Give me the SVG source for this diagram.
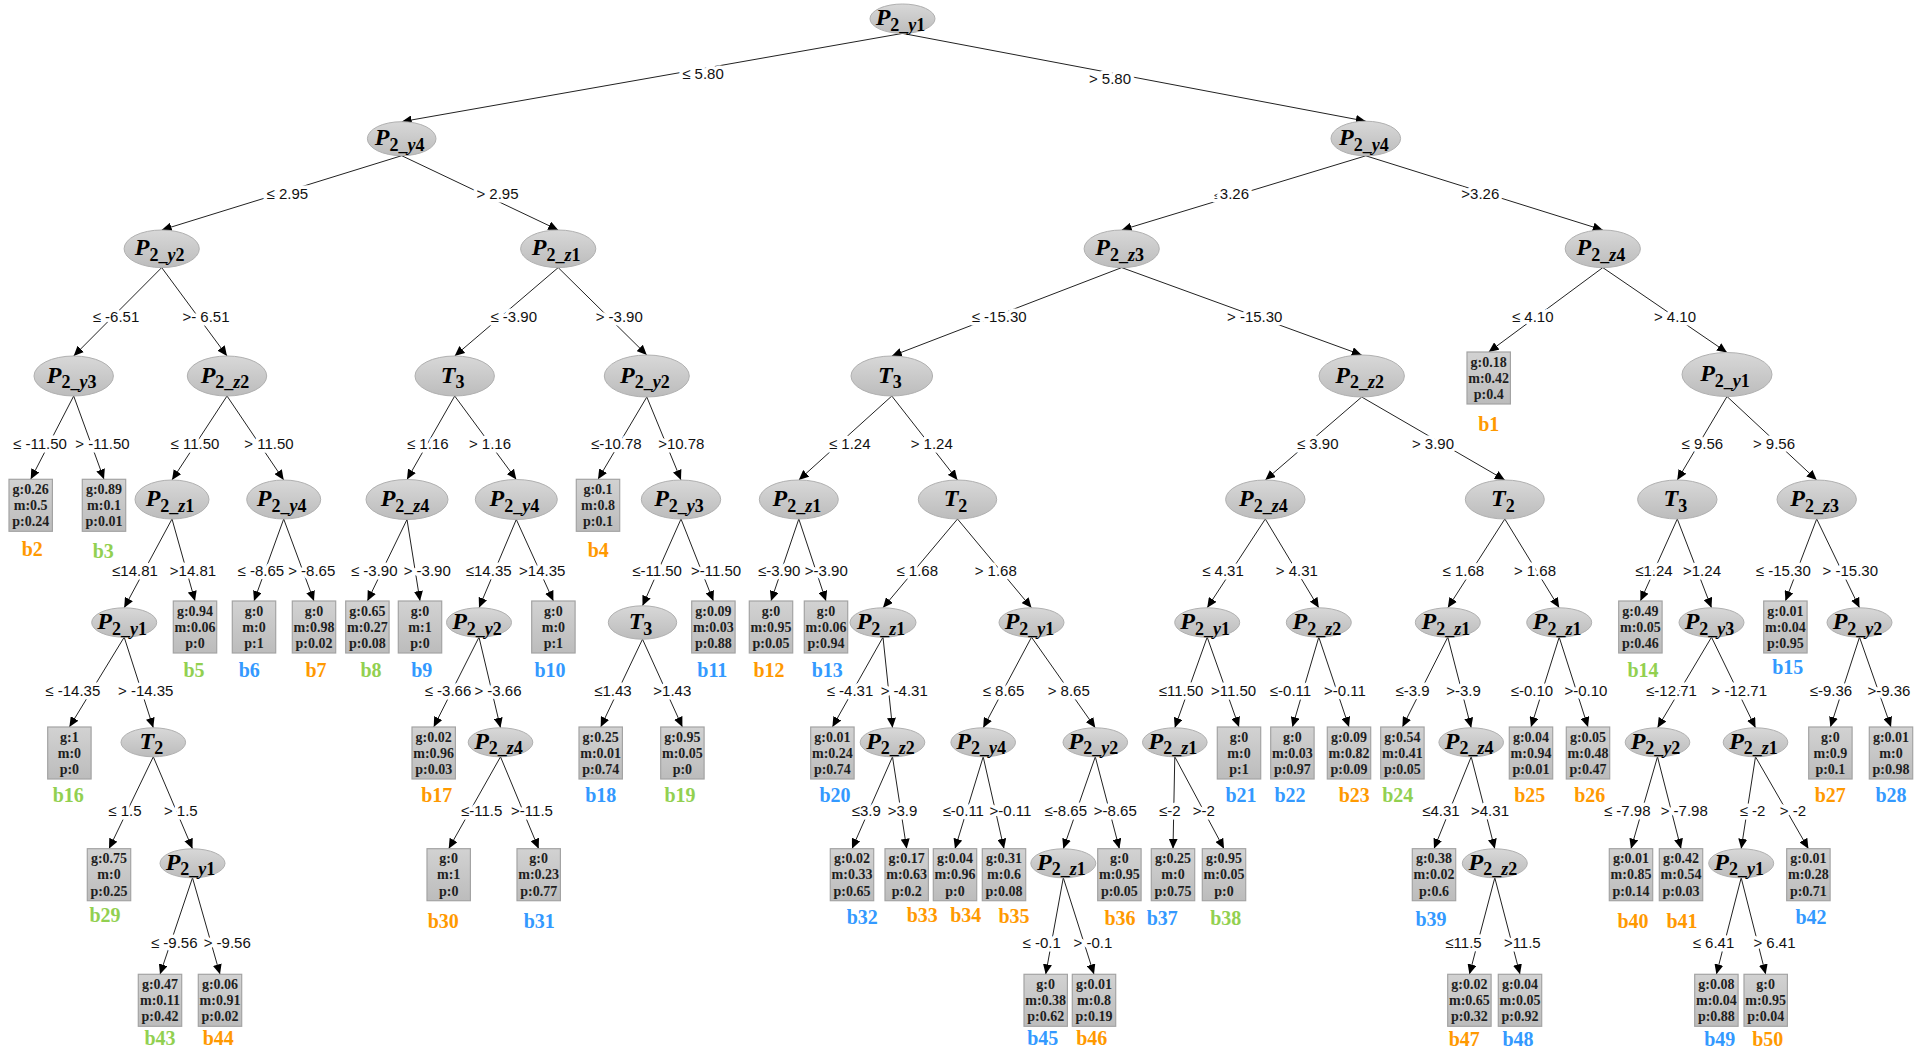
<svg xmlns="http://www.w3.org/2000/svg" width="1917" height="1053" viewBox="0 0 1917 1053">
<style>
.e{fill:url(#eg);stroke:#b0b0b0;stroke-width:1}
.bx{fill:url(#bg);stroke:#a3a3a3;stroke-width:1.2}
.bt{font-family:"Liberation Serif",serif;font-weight:bold;font-size:14px;text-anchor:middle;fill:#1e1e1e}
.nt{font-family:"Liberation Serif",serif;font-weight:bold;font-size:24px;text-anchor:middle;fill:#000}
.i{font-style:italic}
.s{font-size:18px}
.c{stroke:#222;stroke-width:1;fill:none;marker-end:url(#ah)}
.el{font-family:"Liberation Sans",sans-serif;font-size:15px;text-anchor:middle;fill:#111;stroke:#fff;stroke-width:7;paint-order:stroke;stroke-linejoin:round}
.lb{font-family:"Liberation Serif",serif;font-weight:bold;font-size:20px;text-anchor:middle}
.o{fill:#ff9900}.g{fill:#92d050}.b{fill:#3399ff}
</style>
<defs>
<linearGradient id="eg" x1="0" y1="0" x2="0" y2="1"><stop offset="0" stop-color="#d8d8d8"/><stop offset="1" stop-color="#bcbcbc"/></linearGradient>
<linearGradient id="bg" x1="0" y1="0" x2="0" y2="1"><stop offset="0" stop-color="#d2d2d2"/><stop offset="1" stop-color="#bcbcbc"/></linearGradient>
<marker id="ah" markerUnits="userSpaceOnUse" markerWidth="10" markerHeight="9" refX="10" refY="4.5" orient="auto"><path d="M0,0 L10,4.5 L0,9 z" fill="#000"/></marker>
</defs>
<rect width="1917" height="1053" fill="#fff"/>
<g id="connectors">
<line class="c" x1="902.5" y1="33.4" x2="401.7" y2="121.7"/>
<line class="c" x1="902.5" y1="33.4" x2="1365.8" y2="121.2"/>
<line class="c" x1="401.7" y1="155.7" x2="161.7" y2="230"/>
<line class="c" x1="401.7" y1="155.7" x2="558.2" y2="230"/>
<line class="c" x1="1365.8" y1="155.8" x2="1121.7" y2="230"/>
<line class="c" x1="1365.8" y1="155.8" x2="1602.8" y2="230"/>
<line class="c" x1="161.7" y1="267.6" x2="73.7" y2="356"/>
<line class="c" x1="161.7" y1="267.6" x2="227" y2="356"/>
<line class="c" x1="558.2" y1="267.6" x2="454.7" y2="356"/>
<line class="c" x1="558.2" y1="267.6" x2="646.8" y2="355"/>
<line class="c" x1="1121.7" y1="267.6" x2="891.8" y2="356"/>
<line class="c" x1="1121.7" y1="267.6" x2="1361.7" y2="355"/>
<line class="c" x1="1602.8" y1="267.6" x2="1488.7" y2="352"/>
<line class="c" x1="1602.8" y1="267.6" x2="1727" y2="352.5"/>
<line class="c" x1="73.7" y1="396" x2="30.7" y2="479.3"/>
<line class="c" x1="73.7" y1="396" x2="104" y2="479.3"/>
<line class="c" x1="227" y1="396" x2="172" y2="480"/>
<line class="c" x1="227" y1="396" x2="283.7" y2="480"/>
<line class="c" x1="454.7" y1="396" x2="407" y2="479.5"/>
<line class="c" x1="454.7" y1="396" x2="516.3" y2="479.5"/>
<line class="c" x1="646.8" y1="397" x2="598" y2="479.3"/>
<line class="c" x1="646.8" y1="397" x2="681" y2="480"/>
<line class="c" x1="891.8" y1="396" x2="798.8" y2="480"/>
<line class="c" x1="891.8" y1="396" x2="957.5" y2="480"/>
<line class="c" x1="1361.7" y1="397" x2="1265.3" y2="480"/>
<line class="c" x1="1361.7" y1="397" x2="1504.8" y2="480"/>
<line class="c" x1="1727" y1="396.5" x2="1677.3" y2="480"/>
<line class="c" x1="1727" y1="396.5" x2="1816.7" y2="480"/>
<line class="c" x1="172" y1="519" x2="124.2" y2="607.8"/>
<line class="c" x1="172" y1="519" x2="195" y2="601"/>
<line class="c" x1="283.7" y1="519" x2="254" y2="601"/>
<line class="c" x1="283.7" y1="519" x2="314" y2="601"/>
<line class="c" x1="407" y1="519.5" x2="367.4" y2="601"/>
<line class="c" x1="407" y1="519.5" x2="420" y2="601"/>
<line class="c" x1="516.3" y1="519.5" x2="479" y2="607.8"/>
<line class="c" x1="516.3" y1="519.5" x2="553.4" y2="601"/>
<line class="c" x1="681" y1="519" x2="642.5" y2="605.8"/>
<line class="c" x1="681" y1="519" x2="713.4" y2="601"/>
<line class="c" x1="798.8" y1="519" x2="771" y2="601"/>
<line class="c" x1="798.8" y1="519" x2="826" y2="601"/>
<line class="c" x1="957.5" y1="519" x2="883" y2="607.8"/>
<line class="c" x1="957.5" y1="519" x2="1031.5" y2="607.8"/>
<line class="c" x1="1265.3" y1="519" x2="1207.2" y2="607.8"/>
<line class="c" x1="1265.3" y1="519" x2="1318.8" y2="607.8"/>
<line class="c" x1="1504.8" y1="519" x2="1447.8" y2="607.8"/>
<line class="c" x1="1504.8" y1="519" x2="1559.2" y2="607.8"/>
<line class="c" x1="1677.3" y1="519" x2="1640.4" y2="601"/>
<line class="c" x1="1677.3" y1="519" x2="1711.5" y2="607.8"/>
<line class="c" x1="1816.7" y1="519" x2="1785.4" y2="601"/>
<line class="c" x1="1816.7" y1="519" x2="1859.5" y2="607.8"/>
<line class="c" x1="124.2" y1="637.2" x2="69.4" y2="727"/>
<line class="c" x1="124.2" y1="637.2" x2="153.3" y2="727.8"/>
<line class="c" x1="479" y1="637.2" x2="433.7" y2="727"/>
<line class="c" x1="479" y1="637.2" x2="500.5" y2="727.8"/>
<line class="c" x1="642.5" y1="639.2" x2="600.7" y2="727"/>
<line class="c" x1="642.5" y1="639.2" x2="682.4" y2="727"/>
<line class="c" x1="883" y1="637.2" x2="832.4" y2="727"/>
<line class="c" x1="883" y1="637.2" x2="892.5" y2="727.8"/>
<line class="c" x1="1031.5" y1="637.2" x2="983.2" y2="727.8"/>
<line class="c" x1="1031.5" y1="637.2" x2="1095.3" y2="727.8"/>
<line class="c" x1="1207.2" y1="637.2" x2="1174.8" y2="727.8"/>
<line class="c" x1="1207.2" y1="637.2" x2="1239" y2="727"/>
<line class="c" x1="1318.8" y1="637.2" x2="1292.4" y2="727"/>
<line class="c" x1="1318.8" y1="637.2" x2="1349" y2="727"/>
<line class="c" x1="1447.8" y1="637.2" x2="1402.4" y2="727"/>
<line class="c" x1="1447.8" y1="637.2" x2="1471.2" y2="727.8"/>
<line class="c" x1="1559.2" y1="637.2" x2="1531" y2="727"/>
<line class="c" x1="1559.2" y1="637.2" x2="1588" y2="727"/>
<line class="c" x1="1711.5" y1="637.2" x2="1657.5" y2="727.8"/>
<line class="c" x1="1711.5" y1="637.2" x2="1755.5" y2="727.8"/>
<line class="c" x1="1859.5" y1="637.2" x2="1830.4" y2="727"/>
<line class="c" x1="1859.5" y1="637.2" x2="1891" y2="727"/>
<line class="c" x1="153.3" y1="756.8" x2="109" y2="848.7"/>
<line class="c" x1="153.3" y1="756.8" x2="192.5" y2="848.8"/>
<line class="c" x1="500.5" y1="756.8" x2="448.7" y2="848.7"/>
<line class="c" x1="500.5" y1="756.8" x2="538.7" y2="848.7"/>
<line class="c" x1="892.5" y1="756.8" x2="852" y2="848.7"/>
<line class="c" x1="892.5" y1="756.8" x2="906.7" y2="848.7"/>
<line class="c" x1="983.2" y1="756.8" x2="955" y2="848.7"/>
<line class="c" x1="983.2" y1="756.8" x2="1004" y2="848.7"/>
<line class="c" x1="1095.3" y1="756.8" x2="1063.3" y2="848.8"/>
<line class="c" x1="1095.3" y1="756.8" x2="1119.4" y2="848.7"/>
<line class="c" x1="1174.8" y1="756.8" x2="1173" y2="848.7"/>
<line class="c" x1="1174.8" y1="756.8" x2="1224" y2="848.7"/>
<line class="c" x1="1471.2" y1="756.8" x2="1434" y2="848.7"/>
<line class="c" x1="1471.2" y1="756.8" x2="1494.8" y2="848.8"/>
<line class="c" x1="1657.5" y1="756.8" x2="1631" y2="848.7"/>
<line class="c" x1="1657.5" y1="756.8" x2="1681" y2="848.7"/>
<line class="c" x1="1755.5" y1="756.8" x2="1741.2" y2="848.8"/>
<line class="c" x1="1755.5" y1="756.8" x2="1808.4" y2="848.7"/>
<line class="c" x1="192.5" y1="877.8" x2="160" y2="974.3"/>
<line class="c" x1="192.5" y1="877.8" x2="220" y2="974.3"/>
<line class="c" x1="1063.3" y1="877.8" x2="1045.7" y2="974.3"/>
<line class="c" x1="1063.3" y1="877.8" x2="1094" y2="974.3"/>
<line class="c" x1="1494.8" y1="877.8" x2="1469.4" y2="974.3"/>
<line class="c" x1="1494.8" y1="877.8" x2="1520" y2="974.3"/>
<line class="c" x1="1741.2" y1="877.8" x2="1716.4" y2="974.3"/>
<line class="c" x1="1741.2" y1="877.8" x2="1765.7" y2="974.3"/>
</g>
<g id="connector-labels">
<text class="el" x="703" y="79">≤ 5.80</text>
<text class="el" x="1110" y="84">&gt; 5.80</text>
<text class="el" x="287.3" y="199">≤ 2.95</text>
<text class="el" x="497.5" y="199">&gt; 2.95</text>
<text class="el" x="1231.7" y="199"><tspan font-size="10">≤</tspan>3.26</text>
<text class="el" x="1480.3" y="199">&gt;3.26</text>
<text class="el" x="116" y="322.3">≤ -6.51</text>
<text class="el" x="206" y="322.3">&gt;- 6.51</text>
<text class="el" x="513.7" y="322.3">≤ -3.90</text>
<text class="el" x="619.2" y="322.3">&gt; -3.90</text>
<text class="el" x="999.2" y="322.3">≤ -15.30</text>
<text class="el" x="1254.7" y="322.3">&gt; -15.30</text>
<text class="el" x="1532.7" y="322.3">≤ 4.10</text>
<text class="el" x="1675" y="322.3">&gt; 4.10</text>
<text class="el" x="40" y="449.3">≤ -11.50</text>
<text class="el" x="102.5" y="449.3">&gt; -11.50</text>
<text class="el" x="195" y="449.3">≤ 11.50</text>
<text class="el" x="269" y="449.3">&gt; 11.50</text>
<text class="el" x="427.7" y="449.3">≤ 1.16</text>
<text class="el" x="490" y="449.3">&gt; 1.16</text>
<text class="el" x="616.3" y="449.3">≤-10.78</text>
<text class="el" x="681.3" y="449.3">&gt;10.78</text>
<text class="el" x="849.7" y="449.3">≤ 1.24</text>
<text class="el" x="931.7" y="449.3">&gt; 1.24</text>
<text class="el" x="1317.7" y="449.3">≤ 3.90</text>
<text class="el" x="1433" y="449.3">&gt; 3.90</text>
<text class="el" x="1702.3" y="449.3">≤ 9.56</text>
<text class="el" x="1774" y="449.3">&gt; 9.56</text>
<text class="el" x="135" y="576.3">≤14.81</text>
<text class="el" x="193" y="576.3">&gt;14.81</text>
<text class="el" x="260.8" y="576.3">≤ -8.65</text>
<text class="el" x="311.7" y="576.3">&gt; -8.65</text>
<text class="el" x="374.2" y="576.3">≤ -3.90</text>
<text class="el" x="427.2" y="576.3">&gt; -3.90</text>
<text class="el" x="488.7" y="576.3">≤14.35</text>
<text class="el" x="542.2" y="576.3">&gt;14.35</text>
<text class="el" x="657" y="576.3">≤-11.50</text>
<text class="el" x="716" y="576.3">&gt;-11.50</text>
<text class="el" x="779.2" y="576.3">≤-3.90</text>
<text class="el" x="826.3" y="576.3">&gt;-3.90</text>
<text class="el" x="917.2" y="576.3">≤ 1.68</text>
<text class="el" x="995.7" y="576.3">&gt; 1.68</text>
<text class="el" x="1223" y="576.3">≤ 4.31</text>
<text class="el" x="1296.8" y="576.3">&gt; 4.31</text>
<text class="el" x="1463.3" y="576.3">≤ 1.68</text>
<text class="el" x="1535" y="576.3">&gt; 1.68</text>
<text class="el" x="1654" y="576.3">≤1.24</text>
<text class="el" x="1702" y="576.3">&gt;1.24</text>
<text class="el" x="1783.3" y="576.3">≤ -15.30</text>
<text class="el" x="1850.3" y="576.3">&gt; -15.30</text>
<text class="el" x="72.8" y="696.3">≤ -14.35</text>
<text class="el" x="145.7" y="696.3">&gt; -14.35</text>
<text class="el" x="448" y="696.3">≤ -3.66</text>
<text class="el" x="498" y="696.3">&gt; -3.66</text>
<text class="el" x="613" y="696.3">≤1.43</text>
<text class="el" x="672.3" y="696.3">&gt;1.43</text>
<text class="el" x="850" y="696.3">≤ -4.31</text>
<text class="el" x="904.2" y="696.3">&gt; -4.31</text>
<text class="el" x="1003.5" y="696.3">≤ 8.65</text>
<text class="el" x="1068.7" y="696.3">&gt; 8.65</text>
<text class="el" x="1181" y="696.3">≤11.50</text>
<text class="el" x="1233.5" y="696.3">&gt;11.50</text>
<text class="el" x="1290.5" y="696.3">≤-0.11</text>
<text class="el" x="1345" y="696.3">&gt;-0.11</text>
<text class="el" x="1412.5" y="696.3">≤-3.9</text>
<text class="el" x="1463.5" y="696.3">&gt;-3.9</text>
<text class="el" x="1532" y="696.3">≤-0.10</text>
<text class="el" x="1586" y="696.3">&gt;-0.10</text>
<text class="el" x="1671.5" y="696.3">≤-12.71</text>
<text class="el" x="1739.3" y="696.3">&gt; -12.71</text>
<text class="el" x="1831" y="696.3">≤-9.36</text>
<text class="el" x="1889" y="696.3">&gt;-9.36</text>
<text class="el" x="125" y="816">≤ 1.5</text>
<text class="el" x="180.8" y="816">&gt; 1.5</text>
<text class="el" x="481.7" y="816">≤-11.5</text>
<text class="el" x="532" y="816">&gt;-11.5</text>
<text class="el" x="866.3" y="816">≤3.9</text>
<text class="el" x="902.5" y="816">&gt;3.9</text>
<text class="el" x="963.3" y="816">≤-0.11</text>
<text class="el" x="1010.5" y="816">&gt;-0.11</text>
<text class="el" x="1065.8" y="816">≤-8.65</text>
<text class="el" x="1115.3" y="816">&gt;-8.65</text>
<text class="el" x="1169.8" y="816">≤-2</text>
<text class="el" x="1203.7" y="816">&gt;-2</text>
<text class="el" x="1441" y="816">≤4.31</text>
<text class="el" x="1490" y="816">&gt;4.31</text>
<text class="el" x="1627.2" y="816">≤ -7.98</text>
<text class="el" x="1684.2" y="816">&gt; -7.98</text>
<text class="el" x="1752.5" y="816">≤ -2</text>
<text class="el" x="1793" y="816">&gt; -2</text>
<text class="el" x="174.2" y="948">≤ -9.56</text>
<text class="el" x="227.2" y="948">&gt; -9.56</text>
<text class="el" x="1041.7" y="948">≤ -0.1</text>
<text class="el" x="1093" y="948">&gt; -0.1</text>
<text class="el" x="1463.5" y="948">≤11.5</text>
<text class="el" x="1522.3" y="948">&gt;11.5</text>
<text class="el" x="1713.5" y="948">≤ 6.41</text>
<text class="el" x="1774.5" y="948">&gt; 6.41</text>
</g>
<g id="nodes">
<g id="n0"><ellipse class="e" cx="902.5" cy="18.7" rx="32.5" ry="14.7"/><text class="nt" x="900.5" y="25.2"><tspan class="i">P</tspan><tspan class="s" dy="5.5">2_<tspan class="i">y</tspan>1</tspan></text></g>
<g id="nA"><ellipse class="e" cx="401.7" cy="138.7" rx="34.3" ry="17"/><text class="nt" x="399.7" y="145.2"><tspan class="i">P</tspan><tspan class="s" dy="5.5">2_<tspan class="i">y</tspan>4</tspan></text></g>
<g id="nB"><ellipse class="e" cx="1365.8" cy="138.5" rx="34.8" ry="17.3"/><text class="nt" x="1363.8" y="145"><tspan class="i">P</tspan><tspan class="s" dy="5.5">2_<tspan class="i">y</tspan>4</tspan></text></g>
<g id="nAA"><ellipse class="e" cx="161.7" cy="248.8" rx="37.6" ry="18.8"/><text class="nt" x="159.7" y="255.3"><tspan class="i">P</tspan><tspan class="s" dy="5.5">2_<tspan class="i">y</tspan>2</tspan></text></g>
<g id="nAB"><ellipse class="e" cx="558.2" cy="248.8" rx="37.6" ry="18.8"/><text class="nt" x="556.2" y="255.3"><tspan class="i">P</tspan><tspan class="s" dy="5.5">2_<tspan class="i">z</tspan>1</tspan></text></g>
<g id="nBA"><ellipse class="e" cx="1121.7" cy="248.8" rx="37.6" ry="18.8"/><text class="nt" x="1119.7" y="255.3"><tspan class="i">P</tspan><tspan class="s" dy="5.5">2_<tspan class="i">z</tspan>3</tspan></text></g>
<g id="nBB"><ellipse class="e" cx="1602.8" cy="248.8" rx="37.6" ry="18.8"/><text class="nt" x="1600.8" y="255.3"><tspan class="i">P</tspan><tspan class="s" dy="5.5">2_<tspan class="i">z</tspan>4</tspan></text></g>
<g id="nAAA"><ellipse class="e" cx="73.7" cy="376" rx="39.7" ry="20"/><text class="nt" x="71.7" y="382.5"><tspan class="i">P</tspan><tspan class="s" dy="5.5">2_<tspan class="i">y</tspan>3</tspan></text></g>
<g id="nAAB"><ellipse class="e" cx="227" cy="376" rx="39.7" ry="20"/><text class="nt" x="225" y="382.5"><tspan class="i">P</tspan><tspan class="s" dy="5.5">2_<tspan class="i">z</tspan>2</tspan></text></g>
<g id="nABA"><ellipse class="e" cx="454.7" cy="376" rx="39.7" ry="20"/><text class="nt" x="452.7" y="382.5"><tspan class="i">T</tspan><tspan class="s" dy="5.5">3</tspan></text></g>
<g id="nABB"><ellipse class="e" cx="646.8" cy="376" rx="42.5" ry="21"/><text class="nt" x="644.8" y="382.5"><tspan class="i">P</tspan><tspan class="s" dy="5.5">2_<tspan class="i">y</tspan>2</tspan></text></g>
<g id="nBAA"><ellipse class="e" cx="891.8" cy="376" rx="40.8" ry="20"/><text class="nt" x="889.8" y="382.5"><tspan class="i">T</tspan><tspan class="s" dy="5.5">3</tspan></text></g>
<g id="nBAB"><ellipse class="e" cx="1361.7" cy="376" rx="42.7" ry="21"/><text class="nt" x="1359.7" y="382.5"><tspan class="i">P</tspan><tspan class="s" dy="5.5">2_<tspan class="i">z</tspan>2</tspan></text></g>
<g id="nBBB"><ellipse class="e" cx="1727" cy="374.5" rx="45" ry="22"/><text class="nt" x="1725" y="381"><tspan class="i">P</tspan><tspan class="s" dy="5.5">2_<tspan class="i">y</tspan>1</tspan></text></g>
<g id="nAABA"><ellipse class="e" cx="172" cy="499.5" rx="37" ry="19.5"/><text class="nt" x="170" y="506"><tspan class="i">P</tspan><tspan class="s" dy="5.5">2_<tspan class="i">z</tspan>1</tspan></text></g>
<g id="nAABB"><ellipse class="e" cx="283.7" cy="499.5" rx="37" ry="19.5"/><text class="nt" x="281.7" y="506"><tspan class="i">P</tspan><tspan class="s" dy="5.5">2_<tspan class="i">y</tspan>4</tspan></text></g>
<g id="nABAA"><ellipse class="e" cx="407" cy="499.5" rx="41" ry="20"/><text class="nt" x="405" y="506"><tspan class="i">P</tspan><tspan class="s" dy="5.5">2_<tspan class="i">z</tspan>4</tspan></text></g>
<g id="nABAB"><ellipse class="e" cx="516.3" cy="499.5" rx="41" ry="20"/><text class="nt" x="514.3" y="506"><tspan class="i">P</tspan><tspan class="s" dy="5.5">2_<tspan class="i">y</tspan>4</tspan></text></g>
<g id="nABBB"><ellipse class="e" cx="681" cy="499.5" rx="39.7" ry="19.5"/><text class="nt" x="679" y="506"><tspan class="i">P</tspan><tspan class="s" dy="5.5">2_<tspan class="i">y</tspan>3</tspan></text></g>
<g id="nBAAA"><ellipse class="e" cx="798.8" cy="499.5" rx="39.5" ry="19.5"/><text class="nt" x="796.8" y="506"><tspan class="i">P</tspan><tspan class="s" dy="5.5">2_<tspan class="i">z</tspan>1</tspan></text></g>
<g id="nBAAB"><ellipse class="e" cx="957.5" cy="499.5" rx="39.2" ry="19.5"/><text class="nt" x="955.5" y="506"><tspan class="i">T</tspan><tspan class="s" dy="5.5">2</tspan></text></g>
<g id="nBABA"><ellipse class="e" cx="1265.3" cy="499.5" rx="39.7" ry="19.5"/><text class="nt" x="1263.3" y="506"><tspan class="i">P</tspan><tspan class="s" dy="5.5">2_<tspan class="i">z</tspan>4</tspan></text></g>
<g id="nBABB"><ellipse class="e" cx="1504.8" cy="499.5" rx="39.5" ry="19.5"/><text class="nt" x="1502.8" y="506"><tspan class="i">T</tspan><tspan class="s" dy="5.5">2</tspan></text></g>
<g id="nBBBA"><ellipse class="e" cx="1677.3" cy="499.5" rx="39.7" ry="19.5"/><text class="nt" x="1675.3" y="506"><tspan class="i">T</tspan><tspan class="s" dy="5.5">3</tspan></text></g>
<g id="nBBBB"><ellipse class="e" cx="1816.7" cy="499.5" rx="39.7" ry="19.5"/><text class="nt" x="1814.7" y="506"><tspan class="i">P</tspan><tspan class="s" dy="5.5">2_<tspan class="i">z</tspan>3</tspan></text></g>
<g id="nAABAA"><ellipse class="e" cx="124.2" cy="622.5" rx="32.5" ry="14.7"/><text class="nt" x="122.2" y="629"><tspan class="i">P</tspan><tspan class="s" dy="5.5">2_<tspan class="i">y</tspan>1</tspan></text></g>
<g id="nABABA"><ellipse class="e" cx="479" cy="622.5" rx="32.5" ry="14.7"/><text class="nt" x="477" y="629"><tspan class="i">P</tspan><tspan class="s" dy="5.5">2_<tspan class="i">y</tspan>2</tspan></text></g>
<g id="nABBBA"><ellipse class="e" cx="642.5" cy="622.5" rx="34.2" ry="16.7"/><text class="nt" x="640.5" y="629"><tspan class="i">T</tspan><tspan class="s" dy="5.5">3</tspan></text></g>
<g id="nBAABA"><ellipse class="e" cx="883" cy="622.5" rx="33" ry="14.7"/><text class="nt" x="881" y="629"><tspan class="i">P</tspan><tspan class="s" dy="5.5">2_<tspan class="i">z</tspan>1</tspan></text></g>
<g id="nBAABB"><ellipse class="e" cx="1031.5" cy="622.5" rx="32.5" ry="14.7"/><text class="nt" x="1029.5" y="629"><tspan class="i">P</tspan><tspan class="s" dy="5.5">2_<tspan class="i">y</tspan>1</tspan></text></g>
<g id="nBABAA"><ellipse class="e" cx="1207.2" cy="622.5" rx="32.5" ry="14.7"/><text class="nt" x="1205.2" y="629"><tspan class="i">P</tspan><tspan class="s" dy="5.5">2_<tspan class="i">y</tspan>1</tspan></text></g>
<g id="nBABAB"><ellipse class="e" cx="1318.8" cy="622.5" rx="32.5" ry="14.7"/><text class="nt" x="1316.8" y="629"><tspan class="i">P</tspan><tspan class="s" dy="5.5">2_<tspan class="i">z</tspan>2</tspan></text></g>
<g id="nBABBA"><ellipse class="e" cx="1447.8" cy="622.5" rx="32.5" ry="14.7"/><text class="nt" x="1445.8" y="629"><tspan class="i">P</tspan><tspan class="s" dy="5.5">2_<tspan class="i">z</tspan>1</tspan></text></g>
<g id="nBABBB"><ellipse class="e" cx="1559.2" cy="622.5" rx="32.5" ry="14.7"/><text class="nt" x="1557.2" y="629"><tspan class="i">P</tspan><tspan class="s" dy="5.5">2_<tspan class="i">z</tspan>1</tspan></text></g>
<g id="nBBBAB"><ellipse class="e" cx="1711.5" cy="622.5" rx="32.5" ry="14.7"/><text class="nt" x="1709.5" y="629"><tspan class="i">P</tspan><tspan class="s" dy="5.5">2_<tspan class="i">y</tspan>3</tspan></text></g>
<g id="nBBBBB"><ellipse class="e" cx="1859.5" cy="622.5" rx="32.5" ry="14.7"/><text class="nt" x="1857.5" y="629"><tspan class="i">P</tspan><tspan class="s" dy="5.5">2_<tspan class="i">y</tspan>2</tspan></text></g>
<g id="nAABAAB"><ellipse class="e" cx="153.3" cy="742.3" rx="32.3" ry="14.5"/><text class="nt" x="151.3" y="748.8"><tspan class="i">T</tspan><tspan class="s" dy="5.5">2</tspan></text></g>
<g id="nABABAB"><ellipse class="e" cx="500.5" cy="742.3" rx="32.3" ry="14.5"/><text class="nt" x="498.5" y="748.8"><tspan class="i">P</tspan><tspan class="s" dy="5.5">2_<tspan class="i">z</tspan>4</tspan></text></g>
<g id="nBAABAB"><ellipse class="e" cx="892.5" cy="742.3" rx="32.3" ry="14.5"/><text class="nt" x="890.5" y="748.8"><tspan class="i">P</tspan><tspan class="s" dy="5.5">2_<tspan class="i">z</tspan>2</tspan></text></g>
<g id="nBAABBA"><ellipse class="e" cx="983.2" cy="742.3" rx="32.3" ry="14.5"/><text class="nt" x="981.2" y="748.8"><tspan class="i">P</tspan><tspan class="s" dy="5.5">2_<tspan class="i">y</tspan>4</tspan></text></g>
<g id="nBAABBB"><ellipse class="e" cx="1095.3" cy="742.3" rx="32.3" ry="14.5"/><text class="nt" x="1093.3" y="748.8"><tspan class="i">P</tspan><tspan class="s" dy="5.5">2_<tspan class="i">y</tspan>2</tspan></text></g>
<g id="nBABAAA"><ellipse class="e" cx="1174.8" cy="742.3" rx="32.3" ry="14.5"/><text class="nt" x="1172.8" y="748.8"><tspan class="i">P</tspan><tspan class="s" dy="5.5">2_<tspan class="i">z</tspan>1</tspan></text></g>
<g id="nBABBAB"><ellipse class="e" cx="1471.2" cy="742.3" rx="32.3" ry="14.5"/><text class="nt" x="1469.2" y="748.8"><tspan class="i">P</tspan><tspan class="s" dy="5.5">2_<tspan class="i">z</tspan>4</tspan></text></g>
<g id="nBBBABA"><ellipse class="e" cx="1657.5" cy="742.3" rx="32.3" ry="14.5"/><text class="nt" x="1655.5" y="748.8"><tspan class="i">P</tspan><tspan class="s" dy="5.5">2_<tspan class="i">y</tspan>2</tspan></text></g>
<g id="nBBBABB"><ellipse class="e" cx="1755.5" cy="742.3" rx="32.3" ry="14.5"/><text class="nt" x="1753.5" y="748.8"><tspan class="i">P</tspan><tspan class="s" dy="5.5">2_<tspan class="i">z</tspan>1</tspan></text></g>
<g id="nAABAABB"><ellipse class="e" cx="192.5" cy="863.3" rx="32.5" ry="14.5"/><text class="nt" x="190.5" y="869.8"><tspan class="i">P</tspan><tspan class="s" dy="5.5">2_<tspan class="i">y</tspan>1</tspan></text></g>
<g id="nBAABBBA"><ellipse class="e" cx="1063.3" cy="863.3" rx="32.5" ry="14.5"/><text class="nt" x="1061.3" y="869.8"><tspan class="i">P</tspan><tspan class="s" dy="5.5">2_<tspan class="i">z</tspan>1</tspan></text></g>
<g id="nBABBABB"><ellipse class="e" cx="1494.8" cy="863.3" rx="32.5" ry="14.5"/><text class="nt" x="1492.8" y="869.8"><tspan class="i">P</tspan><tspan class="s" dy="5.5">2_<tspan class="i">z</tspan>2</tspan></text></g>
<g id="nBBBABBA"><ellipse class="e" cx="1741.2" cy="863.3" rx="32.5" ry="14.5"/><text class="nt" x="1739.2" y="869.8"><tspan class="i">P</tspan><tspan class="s" dy="5.5">2_<tspan class="i">y</tspan>1</tspan></text></g>

<g id="b1"><rect class="bx" x="1467" y="352" width="43.4" height="52"/><text class="bt" x="1488.7" y="366.5">g:0.18<tspan x="1488.7" dy="16.2">m:0.42</tspan><tspan x="1488.7" dy="16.2">p:0.4</tspan></text><text class="lb o" x="1488.7" y="431">b1</text></g>
<g id="b2"><rect class="bx" x="9" y="479.3" width="43.4" height="52"/><text class="bt" x="30.7" y="493.8">g:0.26<tspan x="30.7" dy="16.2">m:0.5</tspan><tspan x="30.7" dy="16.2">p:0.24</tspan></text><text class="lb o" x="32.3" y="556">b2</text></g>
<g id="b3"><rect class="bx" x="82.3" y="479.3" width="43.4" height="52"/><text class="bt" x="104" y="493.8">g:0.89<tspan x="104" dy="16.2">m:0.1</tspan><tspan x="104" dy="16.2">p:0.01</tspan></text><text class="lb g" x="103.3" y="558">b3</text></g>
<g id="b4"><rect class="bx" x="576.3" y="479.3" width="43.4" height="52"/><text class="bt" x="598" y="493.8">g:0.1<tspan x="598" dy="16.2">m:0.8</tspan><tspan x="598" dy="16.2">p:0.1</tspan></text><text class="lb o" x="598.3" y="557">b4</text></g>
<g id="b5"><rect class="bx" x="173.3" y="601" width="43.4" height="52"/><text class="bt" x="195" y="615.5">g:0.94<tspan x="195" dy="16.2">m:0.06</tspan><tspan x="195" dy="16.2">p:0</tspan></text><text class="lb g" x="194" y="677">b5</text></g>
<g id="b6"><rect class="bx" x="232.3" y="601" width="43.4" height="52"/><text class="bt" x="254" y="615.5">g:0<tspan x="254" dy="16.2">m:0</tspan><tspan x="254" dy="16.2">p:1</tspan></text><text class="lb b" x="249.3" y="677">b6</text></g>
<g id="b7"><rect class="bx" x="292.3" y="601" width="43.4" height="52"/><text class="bt" x="314" y="615.5">g:0<tspan x="314" dy="16.2">m:0.98</tspan><tspan x="314" dy="16.2">p:0.02</tspan></text><text class="lb o" x="316" y="677">b7</text></g>
<g id="b8"><rect class="bx" x="345.7" y="601" width="43.4" height="52"/><text class="bt" x="367.4" y="615.5">g:0.65<tspan x="367.4" dy="16.2">m:0.27</tspan><tspan x="367.4" dy="16.2">p:0.08</tspan></text><text class="lb g" x="371" y="677">b8</text></g>
<g id="b9"><rect class="bx" x="398.3" y="601" width="43.4" height="52"/><text class="bt" x="420" y="615.5">g:0<tspan x="420" dy="16.2">m:1</tspan><tspan x="420" dy="16.2">p:0</tspan></text><text class="lb b" x="421.7" y="677">b9</text></g>
<g id="b10"><rect class="bx" x="531.7" y="601" width="43.4" height="52"/><text class="bt" x="553.4" y="615.5">g:0<tspan x="553.4" dy="16.2">m:0</tspan><tspan x="553.4" dy="16.2">p:1</tspan></text><text class="lb b" x="550" y="677">b10</text></g>
<g id="b11"><rect class="bx" x="691.7" y="601" width="43.4" height="52"/><text class="bt" x="713.4" y="615.5">g:0.09<tspan x="713.4" dy="16.2">m:0.03</tspan><tspan x="713.4" dy="16.2">p:0.88</tspan></text><text class="lb b" x="712.3" y="677">b11</text></g>
<g id="b12"><rect class="bx" x="749.3" y="601" width="43.4" height="52"/><text class="bt" x="771" y="615.5">g:0<tspan x="771" dy="16.2">m:0.95</tspan><tspan x="771" dy="16.2">p:0.05</tspan></text><text class="lb o" x="769" y="677">b12</text></g>
<g id="b13"><rect class="bx" x="804.3" y="601" width="43.4" height="52"/><text class="bt" x="826" y="615.5">g:0<tspan x="826" dy="16.2">m:0.06</tspan><tspan x="826" dy="16.2">p:0.94</tspan></text><text class="lb b" x="827.3" y="677">b13</text></g>
<g id="b14"><rect class="bx" x="1618.7" y="601" width="43.4" height="52"/><text class="bt" x="1640.4" y="615.5">g:0.49<tspan x="1640.4" dy="16.2">m:0.05</tspan><tspan x="1640.4" dy="16.2">p:0.46</tspan></text><text class="lb g" x="1643" y="677">b14</text></g>
<g id="b15"><rect class="bx" x="1763.7" y="601" width="43.4" height="52"/><text class="bt" x="1785.4" y="615.5">g:0.01<tspan x="1785.4" dy="16.2">m:0.04</tspan><tspan x="1785.4" dy="16.2">p:0.95</tspan></text><text class="lb b" x="1787.7" y="674">b15</text></g>
<g id="b16"><rect class="bx" x="47.7" y="727" width="43.4" height="52"/><text class="bt" x="69.4" y="741.5">g:1<tspan x="69.4" dy="16.2">m:0</tspan><tspan x="69.4" dy="16.2">p:0</tspan></text><text class="lb g" x="68.3" y="802">b16</text></g>
<g id="b17"><rect class="bx" x="412" y="727" width="43.4" height="52"/><text class="bt" x="433.7" y="741.5">g:0.02<tspan x="433.7" dy="16.2">m:0.96</tspan><tspan x="433.7" dy="16.2">p:0.03</tspan></text><text class="lb o" x="436.7" y="802">b17</text></g>
<g id="b18"><rect class="bx" x="579" y="727" width="43.4" height="52"/><text class="bt" x="600.7" y="741.5">g:0.25<tspan x="600.7" dy="16.2">m:0.01</tspan><tspan x="600.7" dy="16.2">p:0.74</tspan></text><text class="lb b" x="600.7" y="802">b18</text></g>
<g id="b19"><rect class="bx" x="660.7" y="727" width="43.4" height="52"/><text class="bt" x="682.4" y="741.5">g:0.95<tspan x="682.4" dy="16.2">m:0.05</tspan><tspan x="682.4" dy="16.2">p:0</tspan></text><text class="lb g" x="680" y="802">b19</text></g>
<g id="b20"><rect class="bx" x="810.7" y="727" width="43.4" height="52"/><text class="bt" x="832.4" y="741.5">g:0.01<tspan x="832.4" dy="16.2">m:0.24</tspan><tspan x="832.4" dy="16.2">p:0.74</tspan></text><text class="lb b" x="835" y="802">b20</text></g>
<g id="b21"><rect class="bx" x="1217.3" y="727" width="43.4" height="52"/><text class="bt" x="1239" y="741.5">g:0<tspan x="1239" dy="16.2">m:0</tspan><tspan x="1239" dy="16.2">p:1</tspan></text><text class="lb b" x="1241" y="802">b21</text></g>
<g id="b22"><rect class="bx" x="1270.7" y="727" width="43.4" height="52"/><text class="bt" x="1292.4" y="741.5">g:0<tspan x="1292.4" dy="16.2">m:0.03</tspan><tspan x="1292.4" dy="16.2">p:0.97</tspan></text><text class="lb b" x="1290" y="802">b22</text></g>
<g id="b23"><rect class="bx" x="1327.3" y="727" width="43.4" height="52"/><text class="bt" x="1349" y="741.5">g:0.09<tspan x="1349" dy="16.2">m:0.82</tspan><tspan x="1349" dy="16.2">p:0.09</tspan></text><text class="lb o" x="1354.3" y="802">b23</text></g>
<g id="b24"><rect class="bx" x="1380.7" y="727" width="43.4" height="52"/><text class="bt" x="1402.4" y="741.5">g:0.54<tspan x="1402.4" dy="16.2">m:0.41</tspan><tspan x="1402.4" dy="16.2">p:0.05</tspan></text><text class="lb g" x="1397.7" y="802">b24</text></g>
<g id="b25"><rect class="bx" x="1509.3" y="727" width="43.4" height="52"/><text class="bt" x="1531" y="741.5">g:0.04<tspan x="1531" dy="16.2">m:0.94</tspan><tspan x="1531" dy="16.2">p:0.01</tspan></text><text class="lb o" x="1529.7" y="802">b25</text></g>
<g id="b26"><rect class="bx" x="1566.3" y="727" width="43.4" height="52"/><text class="bt" x="1588" y="741.5">g:0.05<tspan x="1588" dy="16.2">m:0.48</tspan><tspan x="1588" dy="16.2">p:0.47</tspan></text><text class="lb o" x="1589.7" y="802">b26</text></g>
<g id="b27"><rect class="bx" x="1808.7" y="727" width="43.4" height="52"/><text class="bt" x="1830.4" y="741.5">g:0<tspan x="1830.4" dy="16.2">m:0.9</tspan><tspan x="1830.4" dy="16.2">p:0.1</tspan></text><text class="lb o" x="1830.3" y="802">b27</text></g>
<g id="b28"><rect class="bx" x="1869.3" y="727" width="43.4" height="52"/><text class="bt" x="1891" y="741.5">g:0.01<tspan x="1891" dy="16.2">m:0</tspan><tspan x="1891" dy="16.2">p:0.98</tspan></text><text class="lb b" x="1891" y="802">b28</text></g>
<g id="b29"><rect class="bx" x="87.3" y="848.7" width="43.4" height="52"/><text class="bt" x="109" y="863.2">g:0.75<tspan x="109" dy="16.2">m:0</tspan><tspan x="109" dy="16.2">p:0.25</tspan></text><text class="lb g" x="105" y="922">b29</text></g>
<g id="b30"><rect class="bx" x="427" y="848.7" width="43.4" height="52"/><text class="bt" x="448.7" y="863.2">g:0<tspan x="448.7" dy="16.2">m:1</tspan><tspan x="448.7" dy="16.2">p:0</tspan></text><text class="lb o" x="443.3" y="927.7">b30</text></g>
<g id="b31"><rect class="bx" x="517" y="848.7" width="43.4" height="52"/><text class="bt" x="538.7" y="863.2">g:0<tspan x="538.7" dy="16.2">m:0.23</tspan><tspan x="538.7" dy="16.2">p:0.77</tspan></text><text class="lb b" x="539.3" y="928">b31</text></g>
<g id="b32"><rect class="bx" x="830.3" y="848.7" width="43.4" height="52"/><text class="bt" x="852" y="863.2">g:0.02<tspan x="852" dy="16.2">m:0.33</tspan><tspan x="852" dy="16.2">p:0.65</tspan></text><text class="lb b" x="862.3" y="923.7">b32</text></g>
<g id="b33"><rect class="bx" x="885" y="848.7" width="43.4" height="52"/><text class="bt" x="906.7" y="863.2">g:0.17<tspan x="906.7" dy="16.2">m:0.63</tspan><tspan x="906.7" dy="16.2">p:0.2</tspan></text><text class="lb o" x="922.3" y="922">b33</text></g>
<g id="b34"><rect class="bx" x="933.3" y="848.7" width="43.4" height="52"/><text class="bt" x="955" y="863.2">g:0.04<tspan x="955" dy="16.2">m:0.96</tspan><tspan x="955" dy="16.2">p:0</tspan></text><text class="lb o" x="965.8" y="922">b34</text></g>
<g id="b35"><rect class="bx" x="982.3" y="848.7" width="43.4" height="52"/><text class="bt" x="1004" y="863.2">g:0.31<tspan x="1004" dy="16.2">m:0.6</tspan><tspan x="1004" dy="16.2">p:0.08</tspan></text><text class="lb o" x="1014" y="922.7">b35</text></g>
<g id="b36"><rect class="bx" x="1097.7" y="848.7" width="43.4" height="52"/><text class="bt" x="1119.4" y="863.2">g:0<tspan x="1119.4" dy="16.2">m:0.95</tspan><tspan x="1119.4" dy="16.2">p:0.05</tspan></text><text class="lb o" x="1120" y="924.7">b36</text></g>
<g id="b37"><rect class="bx" x="1151.3" y="848.7" width="43.4" height="52"/><text class="bt" x="1173" y="863.2">g:0.25<tspan x="1173" dy="16.2">m:0</tspan><tspan x="1173" dy="16.2">p:0.75</tspan></text><text class="lb b" x="1162.3" y="924.7">b37</text></g>
<g id="b38"><rect class="bx" x="1202.3" y="848.7" width="43.4" height="52"/><text class="bt" x="1224" y="863.2">g:0.95<tspan x="1224" dy="16.2">m:0.05</tspan><tspan x="1224" dy="16.2">p:0</tspan></text><text class="lb g" x="1225.7" y="924.7">b38</text></g>
<g id="b39"><rect class="bx" x="1412.3" y="848.7" width="43.4" height="52"/><text class="bt" x="1434" y="863.2">g:0.38<tspan x="1434" dy="16.2">m:0.02</tspan><tspan x="1434" dy="16.2">p:0.6</tspan></text><text class="lb b" x="1431" y="926">b39</text></g>
<g id="b40"><rect class="bx" x="1609.3" y="848.7" width="43.4" height="52"/><text class="bt" x="1631" y="863.2">g:0.01<tspan x="1631" dy="16.2">m:0.85</tspan><tspan x="1631" dy="16.2">p:0.14</tspan></text><text class="lb o" x="1633" y="928">b40</text></g>
<g id="b41"><rect class="bx" x="1659.3" y="848.7" width="43.4" height="52"/><text class="bt" x="1681" y="863.2">g:0.42<tspan x="1681" dy="16.2">m:0.54</tspan><tspan x="1681" dy="16.2">p:0.03</tspan></text><text class="lb o" x="1682" y="928">b41</text></g>
<g id="b42"><rect class="bx" x="1786.7" y="848.7" width="43.4" height="52"/><text class="bt" x="1808.4" y="863.2">g:0.01<tspan x="1808.4" dy="16.2">m:0.28</tspan><tspan x="1808.4" dy="16.2">p:0.71</tspan></text><text class="lb b" x="1811" y="923.7">b42</text></g>
<g id="b43"><rect class="bx" x="138.3" y="974.3" width="43.4" height="52"/><text class="bt" x="160" y="988.8">g:0.47<tspan x="160" dy="16.2">m:0.11</tspan><tspan x="160" dy="16.2">p:0.42</tspan></text><text class="lb g" x="160" y="1045.3">b43</text></g>
<g id="b44"><rect class="bx" x="198.3" y="974.3" width="43.4" height="52"/><text class="bt" x="220" y="988.8">g:0.06<tspan x="220" dy="16.2">m:0.91</tspan><tspan x="220" dy="16.2">p:0.02</tspan></text><text class="lb o" x="218.3" y="1045.3">b44</text></g>
<g id="b45"><rect class="bx" x="1024" y="974.3" width="43.4" height="52"/><text class="bt" x="1045.7" y="988.8">g:0<tspan x="1045.7" dy="16.2">m:0.38</tspan><tspan x="1045.7" dy="16.2">p:0.62</tspan></text><text class="lb b" x="1042.7" y="1045.3">b45</text></g>
<g id="b46"><rect class="bx" x="1072.3" y="974.3" width="43.4" height="52"/><text class="bt" x="1094" y="988.8">g:0.01<tspan x="1094" dy="16.2">m:0.8</tspan><tspan x="1094" dy="16.2">p:0.19</tspan></text><text class="lb o" x="1091.7" y="1045.3">b46</text></g>
<g id="b47"><rect class="bx" x="1447.7" y="974.3" width="43.4" height="52"/><text class="bt" x="1469.4" y="988.8">g:0.02<tspan x="1469.4" dy="16.2">m:0.65</tspan><tspan x="1469.4" dy="16.2">p:0.32</tspan></text><text class="lb o" x="1464.3" y="1046">b47</text></g>
<g id="b48"><rect class="bx" x="1498.3" y="974.3" width="43.4" height="52"/><text class="bt" x="1520" y="988.8">g:0.04<tspan x="1520" dy="16.2">m:0.05</tspan><tspan x="1520" dy="16.2">p:0.92</tspan></text><text class="lb b" x="1518" y="1046">b48</text></g>
<g id="b49"><rect class="bx" x="1694.7" y="974.3" width="43.4" height="52"/><text class="bt" x="1716.4" y="988.8">g:0.08<tspan x="1716.4" dy="16.2">m:0.04</tspan><tspan x="1716.4" dy="16.2">p:0.88</tspan></text><text class="lb b" x="1719.7" y="1046">b49</text></g>
<g id="b50"><rect class="bx" x="1744" y="974.3" width="43.4" height="52"/><text class="bt" x="1765.7" y="988.8">g:0<tspan x="1765.7" dy="16.2">m:0.95</tspan><tspan x="1765.7" dy="16.2">p:0.04</tspan></text><text class="lb o" x="1767.7" y="1046">b50</text></g>
</g>
</svg>
